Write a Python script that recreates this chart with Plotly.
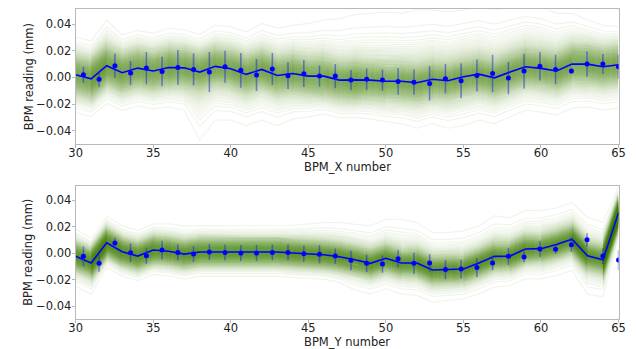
import plotly.graph_objects as go
from statistics import NormalDist

# ---------------- data ----------------
bpm = list(range(30, 66))

# ensemble mean (blue line)
mean_x = [0.002, -0.001, 0.0088, 0.0035, 0.007, 0.0048, 0.0075, 0.0072, 0.004, 0.0083,
          0.0065, 0.0023, 0.006, 0.0015, 0.003, 0.001,
          0.001, -0.002, -0.0018, -0.002, -0.0028, -0.0028, -0.004, -0.0013, -0.0025, 0.0005,
          0.0025, -0.0003, 0.004, 0.008, 0.0068, 0.0048, 0.010, 0.010, 0.008, 0.0095]
mean_y = [-0.0025, -0.0075, 0.0078, 0.001, -0.0023, 0.0023, 0.0013, -0.0008, 0.0008, 0.0008,
          0.0005, 0.0003, 0.0005, 0.0008, 0.0, -0.0005,
          -0.0013, -0.0028, -0.005, -0.0078, -0.004, -0.0075, -0.0075, -0.0128, -0.0125, -0.012,
          -0.0075, -0.0025, -0.0023, 0.003, 0.0033, 0.0065, 0.0105, -0.002, -0.005, 0.0305]

# outer envelope of the ensemble (faintest lines)
hi_x = [0.0205, 0.018, 0.043, 0.028, 0.034, 0.033, 0.037, 0.0355, 0.0305, 0.039, 0.038, 0.034,
        0.0405, 0.037, 0.039, 0.0405, 0.043, 0.044, 0.047, 0.048, 0.049, 0.048, 0.0505, 0.0505,
        0.049, 0.0505, 0.053, 0.0505, 0.053, 0.055, 0.053, 0.048, 0.048, 0.043, 0.039, 0.038]
lo_x = [-0.022, -0.0245, -0.017, -0.023, -0.0195, -0.022, -0.022, -0.0245, -0.047, -0.032,
        -0.032, -0.036, -0.032, -0.036, -0.031, -0.0295, -0.026, -0.028, -0.0295, -0.031,
        -0.033, -0.0345, -0.038, -0.0345, -0.038, -0.036, -0.032, -0.0345, -0.0295, -0.0245,
        -0.026, -0.028, -0.023, -0.022, -0.0245, -0.023]
hi_y = [0.018, 0.009, 0.028, 0.0205, 0.017, 0.022, 0.022, 0.0205, 0.0205, 0.0205, 0.0205,
        0.0205, 0.0205, 0.0205, 0.021, 0.022, 0.023, 0.023, 0.022, 0.0205, 0.0255, 0.0255,
        0.023, 0.0155, 0.0155, 0.0168, 0.0205, 0.028, 0.0268, 0.032, 0.032, 0.034, 0.038,
        0.027, 0.023, 0.050]
lo_y = [-0.025, -0.031, -0.007, -0.017, -0.0195, -0.0145, -0.0158, -0.0195, -0.017, -0.017,
        -0.017, -0.017, -0.017, -0.017, -0.017, -0.018, -0.0195, -0.022, -0.028, -0.0308,
        -0.027, -0.0308, -0.032, -0.037, -0.0358, -0.0345, -0.0308, -0.0258, -0.0245, -0.0195,
        -0.0195, -0.017, -0.013, -0.031, -0.033, 0.012]
# typical spread of the dense core
core_x = 0.0095
core_y = 0.0062

# measured BPM readings with error bars
meas_pos = [30.50, 31.51, 32.53, 33.54, 34.56, 35.57, 36.59, 37.60, 38.62, 39.63, 40.65,
            41.66, 42.68, 43.69, 44.71, 45.72, 46.74, 47.75, 48.76, 49.78, 50.79, 51.81,
            52.82, 53.84, 54.85, 55.87, 56.88, 57.90, 58.91, 59.93, 60.94, 61.96, 62.97,
            63.99, 65.00]
meas_x = [0.002, -0.0013, 0.0088, 0.0033, 0.007, 0.0045, 0.0075, 0.006, 0.004, 0.008, 0.0053,
          0.0018, 0.0063, 0.0013, 0.0028, 0.001, 0.001, -0.002, -0.0013, -0.002, -0.003,
          -0.0035, -0.0045, -0.001, -0.0025, 0.0015, 0.003, -0.0005, 0.0048, 0.0083, 0.006,
          0.0048, 0.010, 0.010, 0.008]
err_x = [0.006, 0.006, 0.009, 0.009, 0.012, 0.011, 0.013, 0.012, 0.015, 0.012, 0.013, 0.012,
         0.012, 0.01, 0.01, 0.008, 0.009, 0.0075, 0.008, 0.008, 0.010, 0.0095, 0.0128, 0.011,
         0.013, 0.012, 0.014, 0.012, 0.013, 0.0105, 0.011, 0.002, 0.0095, 0.0075, 0.009]
meas_y = [-0.0025, -0.0078, 0.0075, 0.0003, -0.002, 0.0023, 0.0005, -0.0008, 0.0008, 0.0005,
          0.0, 0.0, 0.0005, 0.0005, -0.0005, -0.001, -0.0023, -0.0055, -0.0078, -0.0083,
          -0.0043, -0.0078, -0.0075, -0.0125, -0.012, -0.011, -0.0075, -0.0025, -0.003, 0.003,
          0.0028, 0.0063, 0.010, -0.0023, -0.0053]
err_y = [0.0075, 0.0063, 0.004, 0.007, 0.006, 0.007, 0.006, 0.006, 0.006, 0.006, 0.006, 0.006,
         0.006, 0.006, 0.006, 0.0068, 0.0058, 0.0075, 0.0065, 0.0065, 0.0066, 0.008, 0.0065,
         0.0072, 0.007, 0.007, 0.0055, 0.0065, 0.004, 0.006, 0.0035, 0.0055, 0.005, 0.006,
         0.0075]

x_ticks = [30, 35, 40, 45, 50, 55, 60, 65]
y_ticks = [-0.04, -0.02, 0.0, 0.02, 0.04]

# ---------------- figure ----------------
W, H = 636, 349
FONT = "DejaVu Sans"
GREEN = "rgba(80,138,26,0.085)"
N_LINES = 340
nd = NormalDist()
zq = [nd.inv_cdf((k + 0.5) / N_LINES) for k in range(N_LINES)]
zmax = max(abs(z) for z in zq)

fig = go.Figure()


def ensemble(center, hi, lo, core, xa, ya):
    for z in zq:
        a = abs(z)
        ys = []
        for c, h, l in zip(center, hi, lo):
            outer = (h - c) if z > 0 else (c - l)
            b = max(outer - core * zmax, 0.0) / zmax ** 3
            off = core * a + b * a ** 3
            ys.append(c + off if z > 0 else c - off)
        fig.add_trace(go.Scatter(x=bpm, y=ys, mode="lines", xaxis=xa, yaxis=ya,
                                 line=dict(color=GREEN, width=1.2), hoverinfo="skip",
                                 showlegend=False))


def overlay(center, pos, meas, err, xa, ya):
    fig.add_trace(go.Scatter(x=bpm, y=center, mode="lines", xaxis=xa, yaxis=ya,
                             line=dict(color="#0000ff", width=1.6), showlegend=False))
    fig.add_trace(go.Scatter(x=pos, y=meas, mode="markers", xaxis=xa, yaxis=ya,
                             marker=dict(color="#0000ff", size=5),
                             error_y=dict(type="data", array=err, visible=True,
                                          color="rgba(20,40,220,0.5)", thickness=1.5, width=0),
                             showlegend=False))


ensemble(mean_x, hi_x, lo_x, core_x, "x", "y")
overlay(mean_x, meas_pos, meas_x, err_x, "x", "y")
ensemble(mean_y, hi_y, lo_y, core_y, "x2", "y2")
overlay(mean_y, meas_pos, meas_y, err_y, "x2", "y2")

# pixel layout
L, R = 70.2, 625.3
top1, bot1 = 9.3, 144.0
top2, bot2 = 185.5, 319.0


def px(v):
    return v / W


def py(v):
    return 1 - v / H


axis_common = dict(showgrid=False, zeroline=False, showline=True, mirror=True,
                   linecolor="#b8b8b8", linewidth=1, ticks="outside", ticklen=3,
                   tickcolor="#b8b8b8", tickfont=dict(family=FONT, size=11.5, color="#222"))

fig.update_layout(
    width=W, height=H, autosize=False,
    margin=dict(l=0, r=0, t=0, b=0),
    paper_bgcolor="white", plot_bgcolor="white",
    showlegend=False,
    xaxis=dict(domain=[px(L), px(R)], range=[30, 65], tickvals=x_ticks, anchor="y",
               ticklabelstandoff=-5, **axis_common),
    yaxis=dict(domain=[py(bot1), py(top1)], range=[-0.0498, 0.051], tickvals=y_ticks,
               tickformat=".2f", anchor="x", ticklabelstandoff=-2, **axis_common),
    xaxis2=dict(domain=[px(L), px(R)], range=[30, 65], tickvals=x_ticks, anchor="y2",
                ticklabelstandoff=-5, **axis_common),
    yaxis2=dict(domain=[py(bot2), py(top2)], range=[-0.0498, 0.051], tickvals=y_ticks,
                tickformat=".2f", anchor="x2", ticklabelstandoff=-2, **axis_common),
)

title_font = dict(family=FONT, size=11.5, color="#222")
fig.add_annotation(text="BPM_X number", x=px((L + R) / 2), y=py(166.5), xref="paper",
                   yref="paper", showarrow=False, font=title_font, xanchor="center",
                   yanchor="middle")
fig.add_annotation(text="BPM_Y number", x=px((L + R) / 2), y=py(341.5), xref="paper",
                   yref="paper", showarrow=False, font=title_font, xanchor="center",
                   yanchor="middle")
fig.add_annotation(text="BPM reading (mm)", x=px(22), y=py((top1 + bot1) / 2), xref="paper",
                   yref="paper", showarrow=False, font=title_font, textangle=-90,
                   xanchor="center", yanchor="middle")
fig.add_annotation(text="BPM reading (mm)", x=px(22), y=py((top2 + bot2) / 2), xref="paper",
                   yref="paper", showarrow=False, font=title_font, textangle=-90,
                   xanchor="center", yanchor="middle")

fig.write_html("out.html", config={"displayModeBar": False},
               post_script="document.body.style.margin='0';document.body.style.padding='0';")
